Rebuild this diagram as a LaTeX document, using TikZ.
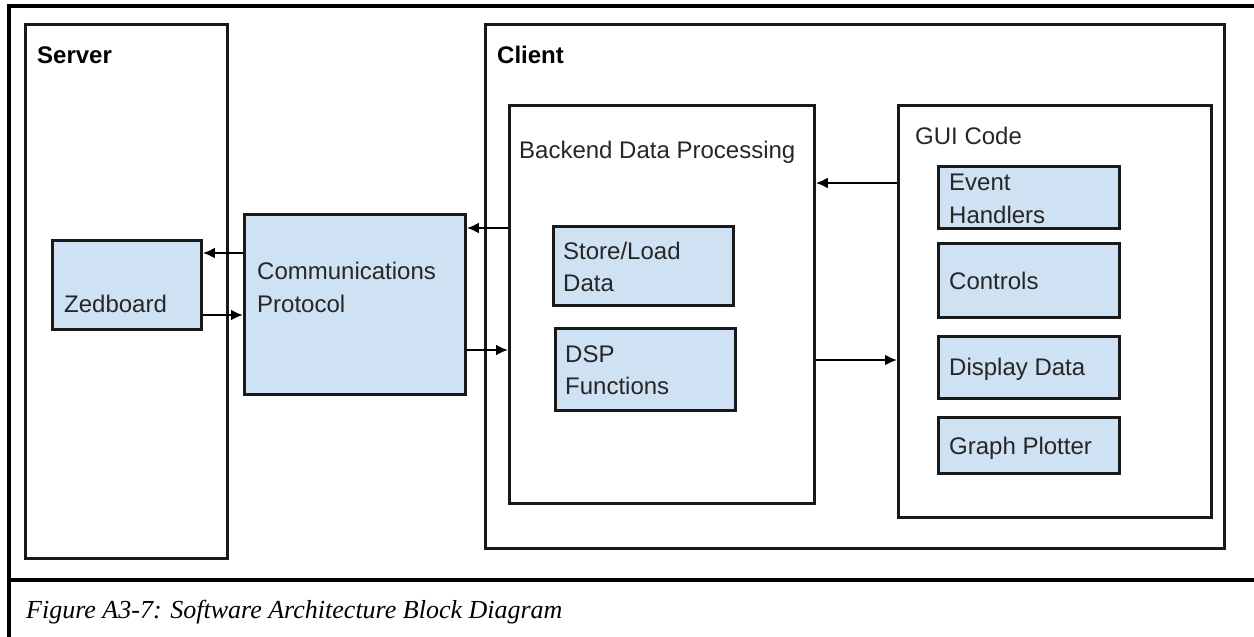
\documentclass[tikz,border=0pt]{standalone}
\usepackage{fontspec}
\setmainfont{Liberation Sans}
\newfontfamily\capfont{Liberation Serif}
\usetikzlibrary{arrows.meta}
\definecolor{blkfill}{RGB}{207,226,243}
\definecolor{edge}{RGB}{25,25,25}
\begin{document}
\begin{tikzpicture}[x=1pt,y=-1pt,
  frm/.style={draw=edge,line width=2.8pt,rectangle,inner sep=0pt,anchor=north west},
  blk/.style={frm,fill=blkfill},
  lbl/.style={inner sep=0pt,anchor=base west,font=\fontsize{24}{29}\selectfont,text=black!85},
  head/.style={lbl,font=\fontsize{24}{29}\selectfont\bfseries,text=black},
  arr/.style={draw=black,line width=2.8pt,-{Latex[length=12pt,width=11pt]}}]
\path[use as bounding box] (0,0) rectangle (1254,637);

% outer frame with caption row
\draw[line width=3.4pt] (1254,6) -- (9,6) -- (9,637);
\draw[line width=3.4pt] (9,580) -- (1254,580);
\node[inner sep=0pt,anchor=base west,font=\capfont\itshape\fontsize{26}{31}\selectfont] (cap) at (26,618)
  {Figure A3-7: Software Architecture Block Diagram};

% server side
\node[frm,minimum width=202pt,minimum height=534pt] (server) at (24,23) {};
\node[head] (servert) at (37,63) {Server};
\node[blk,minimum width=149pt,minimum height=89pt] (zed) at (51,239) {};
\node[lbl] (zedt) at (64,312) {Zedboard};

% protocol between the two sides
\node[blk,minimum width=221pt,minimum height=180pt] (comm) at (243,213) {};
\node[lbl] (comm1) at (257,279) {Communications};
\node[lbl] (comm2) at (257,312) {Protocol};

% client side
\node[frm,minimum width=739pt,minimum height=524pt] (client) at (484,23) {};
\node[head] (clientt) at (497,63) {Client};

\node[frm,minimum width=305pt,minimum height=398pt] (backend) at (508,104) {};
\node[lbl] (backendt) at (519,158) {Backend Data Processing};
\node[blk,minimum width=180pt,minimum height=79pt] (store) at (552,225) {};
\node[lbl] (store1) at (563,259) {Store/Load};
\node[lbl] (store2) at (563,291) {Data};
\node[blk,minimum width=180pt,minimum height=82pt] (dsp) at (554,327) {};
\node[lbl] (dsp1) at (565,362) {DSP};
\node[lbl] (dsp2) at (565,394) {Functions};

\node[frm,minimum width=313pt,minimum height=412pt] (gui) at (897,104) {};
\node[lbl] (guit) at (915,144) {GUI Code};
\node[blk,minimum width=181pt,minimum height=62pt] (event) at (937,165) {};
\node[lbl] (event1) at (949,190) {Event};
\node[lbl] (event2) at (949,223) {Handlers};
\node[blk,minimum width=181pt,minimum height=74pt] (controls) at (937,242) {};
\node[lbl] (controlst) at (949,289) {Controls};
\node[blk,minimum width=181pt,minimum height=62pt] (display) at (937,335) {};
\node[lbl] (displayt) at (949,375) {Display Data};
\node[blk,minimum width=181pt,minimum height=56pt] (graph) at (937,416) {};
\node[lbl] (grapht) at (949,454) {Graph Plotter};

% data flow
\draw[arr] (comm.west |- 0,253) -- (zed.east |- 0,253);
\draw[arr] (zed.east |- 0,315) -- (comm.west |- 0,315);
\draw[arr] (backend.west |- 0,228) -- (comm.east |- 0,228);
\draw[arr] (comm.east |- 0,350) -- (backend.west |- 0,350);
\draw[arr] (gui.west |- 0,183) -- (backend.east |- 0,183);
\draw[arr] (backend.east |- 0,360) -- (gui.west |- 0,360);
\end{tikzpicture}
\end{document}
